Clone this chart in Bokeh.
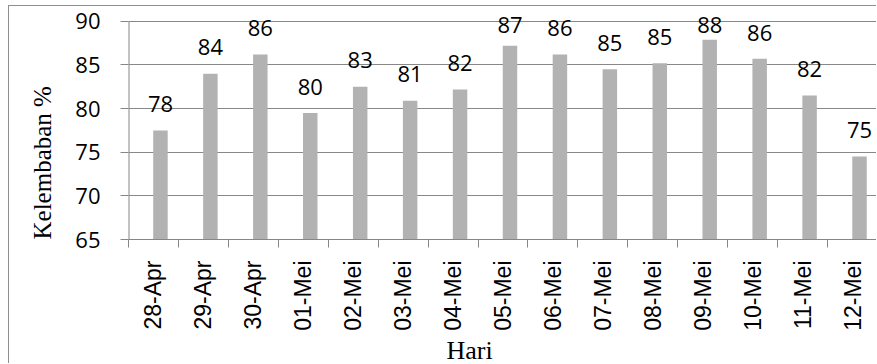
import math
from bokeh.plotting import figure
from bokeh.models import (ColumnDataSource, Range1d, FixedTicker, LabelSet, Title,
                          InlineStyleSheet)
from bokeh.transform import dodge
from bokeh.embed import file_html
from bokeh.resources import INLINE
from bokeh.core.properties import value

# Daily relative humidity, 28 April - 12 May
dates = ["28-Apr", "29-Apr", "30-Apr", "01-Mei", "02-Mei", "03-Mei", "04-Mei",
         "05-Mei", "06-Mei", "07-Mei", "08-Mei", "09-Mei", "10-Mei", "11-Mei", "12-Mei"]
humidity = [77.5, 84.0, 86.2, 79.5, 82.5, 80.9, 82.2,
            87.2, 86.2, 84.5, 85.2, 87.9, 85.7, 81.5, 74.5]
y_ticks = [65, 70, 75, 80, 85, 90]

Y_MIN, Y_MAX = y_ticks[0], y_ticks[-1]
Y_HEADROOM = 1.7    # room above the top gridline for the data labels
LABEL_GAP = 2.1     # data-label baseline sits this far above its bar
LABEL_CEIL = 88.65  # labels are kept below this level so they stay in the chart
BAR_SHIFT = 0.14    # bars sit a little right of the category centre

n = len(dates)
centers = [i + 0.5 for i in range(n)]
# Data labels rounded half-up, as a spreadsheet would show them
labels = [str(int(math.floor(v + 0.5))) for v in humidity]
label_y = [min(v + LABEL_GAP, LABEL_CEIL) for v in humidity]

src = ColumnDataSource(dict(x=centers, top=humidity, label=labels, label_y=label_y))

p = figure(width=868, height=358, output_backend="svg", toolbar_location=None,
           x_range=Range1d(0, n), y_range=Range1d(Y_MIN, Y_MAX + Y_HEADROOM),
           min_border_left=0, min_border_right=0,
           min_border_top=0, min_border_bottom=123)
p.margin = (5, 0, 0, 8)
p.stylesheets = [InlineStyleSheet(css=":host { border-top: 1px solid #8f8f8f; "
                                      "border-left: 1px solid #8f8f8f; }")]
p.outline_line_color = None
p.background_fill_color = "white"
p.border_fill_color = "white"

p.vbar(x=dodge("x", BAR_SHIFT, range=p.x_range), top="top", bottom=Y_MIN,
       width=0.29, source=src, fill_color="#b2b2b2", line_color=None)

p.add_layout(LabelSet(x=dodge("x", BAR_SHIFT, range=p.x_range), y="label_y",
                      text="label", source=src,
                      text_align="center", text_baseline="alphabetic",
                      text_font=value("Open Sans"),
                      text_font_size="22px", text_color="black"))

# x axis: labels at category centres, tick marks on the category boundaries
xa = p.xaxis[0]
xa.ticker = FixedTicker(ticks=centers, minor_ticks=list(range(n + 1)))
xa.major_label_overrides = {c: d for c, d in zip(centers, dates)}
xa.major_label_orientation = math.pi / 2
xa.major_tick_out = 0
xa.major_tick_in = 0
xa.minor_tick_out = 8
xa.minor_tick_in = 0
xa.major_label_standoff = 13
xa.major_label_text_font = "Liberation Sans"
xa.major_label_text_font_size = "23px"
xa.major_label_text_color = "black"
xa.axis_line_color = "#868686"
xa.minor_tick_line_color = "#868686"

# y axis: the axis line only spans the value range, so it is drawn as a segment
ya = p.yaxis[0]
ya.ticker = FixedTicker(ticks=y_ticks)
ya.major_tick_out = 8
ya.major_tick_in = 0
ya.minor_tick_line_color = None
ya.major_label_standoff = 20
ya.major_label_text_font = "Open Sans"
ya.major_label_text_font_size = "22px"
ya.major_label_text_color = "black"
ya.axis_line_color = None
ya.major_tick_line_color = "#868686"
p.segment(x0=0, y0=Y_MIN, x1=0, y1=Y_MAX, line_color="#868686", line_width=2)

p.xgrid.grid_line_color = None
p.ygrid.ticker = FixedTicker(ticks=y_ticks)
p.ygrid.grid_line_color = "#888888"
p.ygrid.grid_line_width = 1

# axis titles
p.add_layout(Title(text="Kelembaban %", align="left", text_font="Liberation Serif",
                   text_font_size="25px", text_font_style="normal",
                   text_color="black", standoff=34), "left")
p.add_layout(Title(text="Hari", align="left", offset=318, text_font="Liberation Serif",
                   text_font_size="26px", text_font_style="normal",
                   text_color="black", standoff=0), "below")

open("out.html", "w").write(file_html(p, INLINE))
